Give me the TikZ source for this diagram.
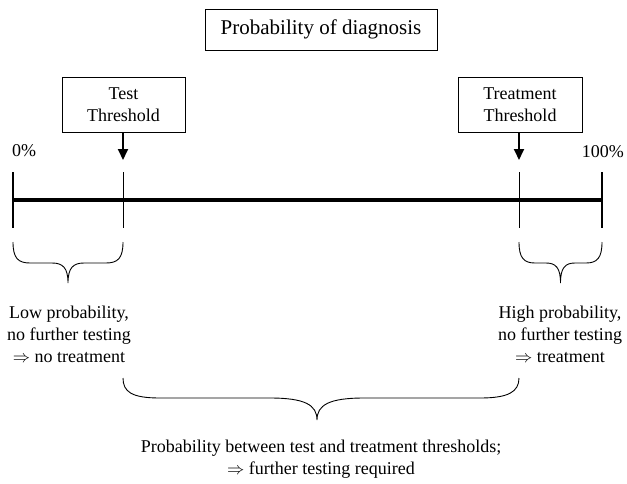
\documentclass[tikz,border=0pt]{standalone}
\usepackage{fontspec}
\setmainfont{Liberation Serif}
\usepackage{amssymb}
\usetikzlibrary{arrows.meta}
\begin{document}
\begin{tikzpicture}[x=1pt,y=-1pt,
  lbl/.style={font=\fontsize{18}{22}\selectfont, align=center, inner sep=0pt},
  boxed/.style={draw, line width=0.8pt, inner sep=0pt, font=\fontsize{18}{22}\selectfont, align=center},
  brc/.style={line width=0.9pt},
  thin/.style={line width=0.6pt},
  thick/.style={line width=4pt},
  ptr/.style={line width=1.8pt, -{Triangle[length=11pt,width=10pt]}}]
\useasboundingbox (0,0) rectangle (627,483);
% title
\node[draw, line width=0.8pt, minimum width=232pt, minimum height=41pt, inner sep=0pt,
  font=\fontsize{21}{25}\selectfont] (title) at (321,29.5) {Probability of diagnosis};
% threshold boxes
\node[boxed, minimum width=123pt, minimum height=55pt] (test) at (123.5,104.5) {Test\\Threshold};
\node[boxed, minimum width=124pt, minimum height=55pt] (treat) at (520,104.5) {Treatment\\Threshold};
% axis points
\coordinate (a0t) at (13,172); \coordinate (a0b) at (13,228);
\coordinate (a1t) at (602,172); \coordinate (a1b) at (602,228);
\coordinate (a0) at (13,200); \coordinate (a1) at (602,200);
\coordinate (tt) at (123,172); \coordinate (tb) at (123,228);
\coordinate (rt) at (519,172); \coordinate (rb) at (519,228);
\coordinate (tarr) at (123,160); \coordinate (rarr) at (519,160);
\draw[thick] (a0) -- (a1);
\draw[line width=2.5pt] (a0t) -- (a0b);
\draw[line width=2.5pt] (a1t) -- (a1b);
\draw[thin] (tt) -- (tb);
\draw[thin] (rt) -- (rb);
\draw[ptr] (test.south -| tarr) -- (tarr);
\draw[ptr] (treat.south -| rarr) -- (rarr);
% percent labels
\node[lbl, anchor=west] (p0) at (12,151) {0\%};
\node[lbl, anchor=east] (p100) at (624,152) {100\%};
% left brace
\draw[brc] (13,242) .. controls (13,258) and (18,263) .. (30,263) -- (52,263)
  .. controls (63,263) and (68,268) .. (68,283)
  .. controls (68,268) and (73,263) .. (84,263) -- (106,263)
  .. controls (118,263) and (123,258) .. (123,242);
% right brace
\draw[brc] (519,242) .. controls (519,258) and (524,263) .. (535,263) -- (546,263)
  .. controls (556,263) and (560.5,268) .. (560.5,283)
  .. controls (560.5,268) and (565,263) .. (575,263) -- (586,263)
  .. controls (597,263) and (602,258) .. (602,242);
% bottom brace
\draw[brc] (123,378) .. controls (123,392) and (132,398) .. (160,398) -- (270,398)
  .. controls (305,398) and (317,405) .. (317,420)
  .. controls (317,405) and (329,398) .. (364,398) -- (480,398)
  .. controls (508,398) and (519,392) .. (519,378);
% texts
\node[lbl] (low) at (69,334) {Low probability,\\no further testing\\$\Rightarrow$ no treatment};
\node[lbl] (high) at (560,334) {High probability,\\no further testing\\$\Rightarrow$ treatment};
\node[lbl] (mid) at (321,459) {Probability between test and treatment thresholds;\\$\Rightarrow$ further testing required};
\end{tikzpicture}
\end{document}
